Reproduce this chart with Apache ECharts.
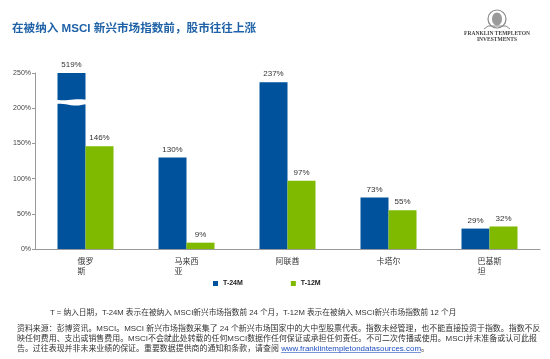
<!DOCTYPE html>
<html><head><meta charset="utf-8">
<script src="https://cdn.jsdelivr.net/npm/echarts@6/dist/echarts.min.js"></script>
<style>html,body{margin:0;padding:0;background:#fff}#c{width:550px;height:359px}</style>
</head><body><div id="c"></div>
<script>
const categories = ['俄罗\n斯', '马来西\n亚', '阿联酋', '卡塔尔', '巴基斯\n坦'];
const seriesNames = ['T-24M', 'T-12M'];
const t24 = [519, 130, 237, 73, 29];
const t12 = [146, 9, 97, 55, 32];
const yTicks = [0, 50, 100, 150, 200, 250];
const breakRange = [205, 212]; // axis-break band drawn on the truncated 俄罗斯 bar

const FONT = '"Liberation Sans", Arial, "Noto Sans CJK SC", sans-serif';
const BLUE = '#00529C', GREEN = '#7FBA00';
const yMax = yTicks[yTicks.length - 1];
const barW = 28;

const noteText = 'T = 纳入日期，T-24M 表示在被纳入 MSCI新兴市场指数前 24 个月，T-12M 表示在被纳入 MSCI新兴市场指数前 12 个月';
const sourceLines = [
  '资料来源：彭博资讯。MSCI。MSCI 新兴市场指数采集了 24 个新兴市场国家中的大中型股票代表。指数未经管理，也不能直接投资于指数。指数不反',
  '映任何费用、支出或销售费用。MSCI不会就此处转载的任何MSCI数据作任何保证或承担任何责任。不可二次传播或使用。MSCI并未准备或认可此报',
  '告。过往表现并非未来业绩的保证。重要数据提供商的通知和条款，请查阅 '
];
const sourceUrl = 'www.franklintempletondatasources.com';

const noteFont = '7.7px ' + FONT;
const srcFont = '7.95px ' + FONT;
const ctx = document.createElement('canvas').getContext('2d');
ctx.font = srcFont;
const urlX = 17 + ctx.measureText(sourceLines[2]).width;
const urlW = ctx.measureText(sourceUrl).width;
const lineYs = [328.5, 338.5, 348.5];

const chart = echarts.init(document.getElementById('c'), null, {renderer: 'canvas'});

const graphic = [
  {type: 'text', left: 12, top: 22.5, style: {text: '在被纳入 MSCI 新兴市场指数前，股市往往上涨',
    font: 'bold 11.6px ' + FONT, fill: '#1F62A7'}},
  {type: 'circle', shape: {cx: 497, cy: 19, r: 9}, style: {fill: '#fff', stroke: '#888', lineWidth: 1.2}},
  {type: 'ellipse', shape: {cx: 497, cy: 19, rx: 5, ry: 6.5}, style: {fill: '#9a9a9a'}},
  {type: 'polyline', shape: {points: [[484, 29], [488, 26], [506, 26], [510, 29]]}, style: {stroke: '#888', lineWidth: 1, fill: null}},
  {type: 'text', style: {text: 'FRANKLIN TEMPLETON', x: 497, y: 33.5, align: 'center', verticalAlign: 'middle',
    font: 'bold 5.5px "Liberation Serif", "DejaVu Serif", serif', fill: '#444'}},
  {type: 'text', style: {text: 'INVESTMENTS', x: 497, y: 39.5, align: 'center', verticalAlign: 'middle',
    font: 'bold 5.5px "Liberation Serif", "DejaVu Serif", serif', fill: '#444'}},
  {type: 'text', style: {text: noteText, x: 50, y: 312.5, verticalAlign: 'middle', font: noteFont, fill: '#333'}}
];
sourceLines.forEach((t, i) => graphic.push({type: 'text', style: {text: t, x: 17, y: lineYs[i],
  verticalAlign: 'middle', font: srcFont, fill: '#333'}}));
graphic.push({type: 'text', style: {text: sourceUrl, x: urlX, y: lineYs[2], verticalAlign: 'middle', font: srcFont, fill: '#1F4FC0'}});
graphic.push({type: 'text', style: {text: '。', x: urlX + urlW, y: lineYs[2], verticalAlign: 'middle', font: srcFont, fill: '#333'}});
graphic.push({type: 'line', shape: {x1: urlX, y1: lineYs[2] + 4, x2: urlX + urlW, y2: lineYs[2] + 4}, style: {stroke: '#1F4FC0', lineWidth: 0.6}});

const option = {
  animation: false,
  textStyle: {fontFamily: FONT},
  grid: {left: 35, right: 10, top: 73, bottom: 110, containLabel: false},
  legend: {
    data: seriesNames, left: 208, top: 275, icon: 'rect', itemWidth: 5, itemHeight: 5,
    itemGap: 48, textStyle: {fontSize: 7, fontWeight: 'bold', color: '#222', fontFamily: FONT}
  },
  xAxis: {
    type: 'category', data: categories,
    axisLine: {lineStyle: {color: '#999', width: 1}},
    axisTick: {length: 3, lineStyle: {color: '#999'}},
    axisLabel: {
      margin: 8, color: '#333', fontSize: 8, lineHeight: 10, interval: 0,
      formatter: function (v) {
        const lines = v.split('\n');
        const w = Math.max(...lines.map(l => l.length)) * 8;
        return lines.map(l => '{a' + lines.length + '_' + w + '|' + l + '}').join('\n');
      },
      rich: {
        a2_16: {width: 16, align: 'left', fontSize: 8, lineHeight: 10, color: '#333'},
        a2_24: {width: 24, align: 'left', fontSize: 8, lineHeight: 10, color: '#333'},
        a1_24: {width: 24, align: 'left', fontSize: 8, lineHeight: 10, color: '#333'}
      }
    }
  },
  yAxis: {
    type: 'value', min: 0, max: yMax, interval: 50,
    splitLine: {show: false},
    axisLine: {show: true, lineStyle: {color: '#999', width: 1}},
    axisTick: {show: true, length: 3, lineStyle: {color: '#999'}},
    axisLabel: {fontSize: 7, color: '#444', margin: 4, formatter: '{value}%'}
  },
  series: [
    {
      name: seriesNames[0], type: 'bar', barWidth: barW, barGap: 0,
      itemStyle: {color: BLUE},
      data: t24.map(v => Math.min(v, yMax)),
      label: {show: true, position: 'top', distance: 4, fontSize: 8, color: '#333',
        formatter: p => t24[p.dataIndex] + '%'}
    },
    {
      name: seriesNames[1], type: 'bar', barWidth: barW, barGap: 0,
      itemStyle: {color: GREEN},
      data: t12,
      label: {show: true, position: 'top', distance: 4, fontSize: 8, color: '#333',
        formatter: p => t12[p.dataIndex] + '%'}
    },
    {
      type: 'custom', silent: true, z: 10,
      data: t24.map((v, i) => v > yMax ? [i, breakRange[0], breakRange[1]] : null).filter(Boolean),
      renderItem: function (params, api) {
        const cx = api.coord([api.value(0), 0])[0];
        const yLo = api.coord([0, api.value(1)])[1];
        const yHi = api.coord([0, api.value(2)])[1];
        const x0 = cx - barW - 2, x1 = cx + 1;
        const pts = [];
        const n = 12;
        for (let k = 0; k <= n; k++) {
          const x = x0 + (x1 - x0) * k / n;
          pts.push([x, yHi + 0.6 * Math.sin(k / n * Math.PI * 2)]);
        }
        for (let k = n; k >= 0; k--) {
          const x = x0 + (x1 - x0) * k / n;
          pts.push([x, yLo - 0.9 * Math.sin(k / n * Math.PI * 2 + 0.6)]);
        }
        return {type: 'polygon', shape: {points: pts}, style: {fill: '#fff'}};
      }
    }
  ],
  graphic: graphic
};
chart.setOption(option);
</script></body></html>
